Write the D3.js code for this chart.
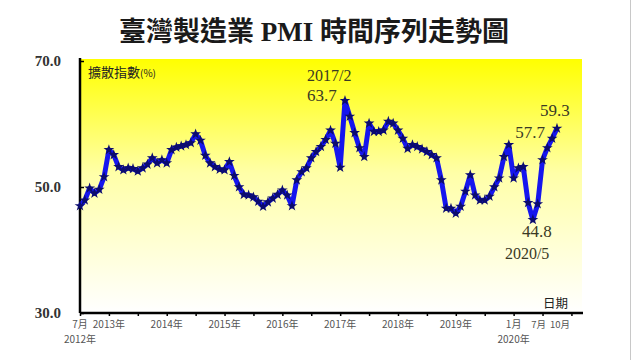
<!DOCTYPE html>
<meta charset='utf-8'>
<style>

body { margin: 0; background: white; }
svg text { font-family: 'Liberation Serif', 'Noto Sans CJK TC', serif; fill: #333; }

.title { font-size: 27px; font-weight: bold; fill: #1a1a1a; }
.axis .domain { stroke: black; stroke-width: 2.5px; }
.axis line { stroke: black; stroke-width: 1.5px; }
.y.axis text { font-size: 15px; font-weight: bold; fill: #333; }
.xlab { font: 10px 'Noto Sans CJK TC', sans-serif; fill: #555; }
.unit { font: 13px 'Noto Sans CJK TC', sans-serif; fill: #222; }
.line { fill: none; stroke: #1616ee; stroke-width: 5px; stroke-linejoin: round; }
.mark { fill: #0c0c6e; }
.note { font-size: 17px; fill: #3a3a24; }

</style>
<body>
<script src='https://cdnjs.cloudflare.com/ajax/libs/d3/7.8.5/d3.min.js'></script>
<script>
'use strict'


// Data: monthly PMI, 2012/7 .. 2020/10

let pmi = [
	47.0, 47.9, 49.8, 49.0, 49.6, 51.6,             // 2012/7-12
	55.9, 55.1, 53.2, 52.7, 53.0, 52.9,             // 2013
	52.5, 53.0, 53.6, 54.6, 53.8, 54.3,
	53.8, 55.9, 56.3, 56.5, 56.7, 57.0,             // 2014
	58.4, 57.4, 55.0, 53.8, 53.2, 52.8,
	52.7, 54.0, 51.8, 50.0, 48.8, 48.7,             // 2015
	48.4, 47.7, 46.9, 47.6, 48.2, 48.8,
	49.5, 48.7, 47.0, 51.1, 52.4, 53.0,             // 2016
	54.6, 55.6, 56.4, 57.5, 59.0, 56.9,
	53.1, 63.7, 61.2, 58.6, 56.2, 54.8,             // 2017
	60.1, 58.8, 58.8, 59.0, 60.4, 60.1,
	59.0, 57.7, 56.1, 56.7, 56.4, 56.0,             // 2018
	55.6, 55.1, 54.6, 51.1, 46.6, 46.6,
	45.8, 46.9, 49.3, 51.9, 48.7, 47.9,             // 2019
	47.9, 48.5, 50.0, 51.4, 54.8, 56.7,
	51.4, 53.0, 53.2, 47.5, 44.8, 47.3,             // 2020
	54.3, 56.2, 57.7, 59.3 ]

let yTicks = [30, 50, 70]
let xTickMonths = [0, 6, 12, 18, 24, 30, 36, 42, 48, 54, 60, 66, 72, 78, 84, 90, 96, 102]
let xLabelMonths = [0, 6, 18, 30, 42, 54, 66, 78, 90, 96, 99]
let xLabels = ['7月', '2013年', '2014年', '2015年', '2016年', '2017年', '2018年', '2019年', '1月', '7月', '10月']
let xSubLabels = {0: '2012年', 90: '2020年'}
let noteMonths = [55, 98, 99, 94]
let noteDates = {55: '2017/2', 94: '2020/5'}


// Scales

let
	width = 640, height = 360,
	x = d3.scaleLinear().domain([0, 104.4]).range([80, 583]),
	y = d3.scaleLinear().domain([30, 70]).range([313, 61])

let svg = d3.select('body')
	.append('svg')
		.attr('width', width)
		.attr('height', height)

let grad = svg.append('defs').append('linearGradient')
	.attr('id', 'bg').attr('x1', 0).attr('y1', 0).attr('x2', 0).attr('y2', 1)
grad.append('stop').attr('offset', '0%').attr('stop-color', '#ffff00')
grad.append('stop').attr('offset', '45%').attr('stop-color', '#ffffa8')
grad.append('stop').attr('offset', '100%').attr('stop-color', '#ffffff')

svg.append('rect')
	.attr('x', x(0)).attr('y', y(70) - 2)
	.attr('width', 582 - x(0)).attr('height', y(30) - y(70) + 2)
	.attr('fill', 'url(#bg)')

svg.append('line')
	.attr('x1', 630.5).attr('x2', 630.5).attr('y1', 0).attr('y2', height)
	.attr('stroke', '#c8c8c8')

svg.append('text').attr('class', 'title')
	.attr('x', 314).attr('y', 41).attr('text-anchor', 'middle')
	.text('臺灣製造業 PMI 時間序列走勢圖')


// Axes

svg.append('g').attr('class', 'x axis')
	.attr('transform', `translate(0,${y(30)})`)
	.call(d3.axisBottom(x).tickValues(xTickMonths).tickSize(3).tickSizeOuter(0).tickFormat(''))
	.call(s => s.select('.domain').attr('d', `M${x(0)},0H583`))

svg.append('g').attr('class', 'y axis')
	.attr('transform', `translate(${x(0)},0)`)
	.call(d3.axisLeft(y).tickValues(yTicks).tickSize(-4).tickSizeOuter(0)
		.tickPadding(19).tickFormat(d3.format('.1f')))
	.call(s => s.select('.domain').attr('d', `M0,${y(30)}V${y(70) - 3}`))

// last two labels sit close together, nudge them apart
let labelNudge = {96: -4, 99: 3}

svg.selectAll('.xlab.top')
	.data(xLabelMonths)
	.enter().append('text').attr('class', 'xlab top')
		.attr('x', d => x(d) + (labelNudge[d] || 0)).attr('y', y(30) + 15)
		.attr('text-anchor', 'middle')
		.style('font-size', d => labelNudge[d] ? '9.5px' : null)
		.text((d, i) => xLabels[i])

svg.selectAll('.xlab.sub')
	.data(Object.keys(xSubLabels).map(Number))
	.enter().append('text').attr('class', 'xlab sub')
		.attr('x', d => x(d)).attr('y', y(30) + 30)
		.attr('text-anchor', 'middle')
		.text(d => xSubLabels[d])

svg.append('text').attr('class', 'unit')
	.attr('x', x(0) + 8).attr('y', y(70) + 16)
	.text('擴散指數')
	.append('tspan').style('font-size', '10px').text('(%)')

svg.append('text').attr('class', 'unit')
	.attr('x', 543).attr('y', y(30) - 5)
	.style('font-size', '12.5px')
	.text('日期')


// Line and markers

let line = d3.line().x((d, i) => x(i)).y(d => y(d))

svg.append('path').datum(pmi).attr('class', 'line').attr('d', line)

svg.selectAll('.mark')
	.data(pmi)
	.enter().append('path').attr('class', 'mark')
		.attr('transform', (d, i) => `translate(${x(i)},${y(d)})`)
		.attr('d', d3.symbol(d3.symbolStar, 36))


// Notes

let noteOffset = {
	55: {value: [-38, 0], date: [-38, -20]},
	98: {value: [-37, 0]},
	99: {value: [-17, -12]},
	94: {value: [-11, 17], date: [-28, 39]} }

noteMonths.forEach(m => {
	let o = noteOffset[m], px = x(m), py = y(pmi[m])
	svg.append('text').attr('class', 'note')
		.attr('x', px + o.value[0]).attr('y', py + o.value[1])
		.text(pmi[m].toFixed(1))
	if (noteDates[m])
		svg.append('text').attr('class', 'note')
			.attr('x', px + o.date[0]).attr('y', py + o.date[1])
			.style('font-size', '16px')
			.text(noteDates[m])
})

</script>
</body>
